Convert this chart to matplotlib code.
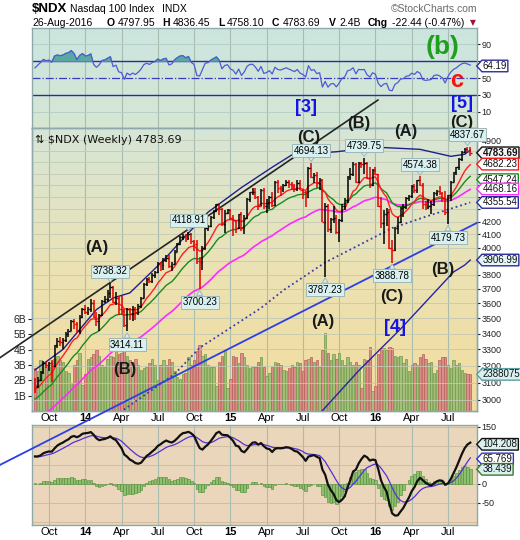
import numpy as np
import pandas as pd
from matplotlib import pyplot as plt
from matplotlib import transforms, font_manager
from matplotlib.path import Path
from matplotlib.colors import LinearSegmentedColormap
from matplotlib.ticker import NullLocator, NullFormatter

plt.rcParams["font.family"] = ["Liberation Sans", "DejaVu Sans"]
_names = {f.name for f in font_manager.fontManager.ttflist}
NARROW = "Liberation Sans Narrow" if "Liberation Sans Narrow" in _names else "Liberation Sans"

# ---------------- weekly $NDX data ----------------
first_week = "2013-08-30"

opens = [3120, 3080, 3115, 3160, 3215, 3205, 3215, 3200, 3325, 3350,
         3345, 3360, 3400, 3420, 3480, 3460, 3415, 3510, 3565, 3545,
         3560, 3600, 3510, 3480, 3525, 3615, 3630, 3670, 3710, 3610,
         3640, 3560, 3550, 3455, 3560, 3530, 3565, 3545, 3585, 3640,
         3735, 3770, 3755, 3800, 3820, 3885, 3870, 3910, 3925, 3860,
         3880, 3970, 4030, 4080, 4090, 4070, 4105, 4050, 4030, 3900,
         3890, 4000, 4150, 4165, 4235, 4285, 4340, 4300, 4185, 4270,
         4290, 4230, 4210, 4150, 4260, 4150, 4230, 4380, 4440, 4445,
         4400, 4330, 4460, 4330, 4350, 4400, 4335, 4525, 4480, 4470,
         4500, 4530, 4510, 4490, 4470, 4515, 4460, 4440, 4400, 4650,
         4570, 4590, 4520, 4540, 4200, 4330, 4140, 4220, 4230, 4120,
         4210, 4330, 4375, 4570, 4600, 4680, 4530, 4690, 4680, 4690,
         4560, 4500, 4630, 4594, 4325, 4190, 4260, 4280, 4000, 3980,
         4150, 4200, 4310, 4320, 4395, 4410, 4490, 4460, 4545, 4505,
         4340, 4320, 4330, 4340, 4435, 4450, 4430, 4390, 4275, 4417,
         4530, 4610, 4655, 4730, 4794, 4817, 4800]
highs = [3125, 3135, 3170, 3230, 3225, 3225, 3235, 3330, 3370, 3380,
         3370, 3410, 3430, 3490, 3495, 3475, 3520, 3570, 3592, 3575,
         3630, 3625, 3540, 3530, 3620, 3650, 3690, 3738.32, 3720, 3680,
         3650, 3650, 3560, 3570, 3570, 3580, 3575, 3595, 3645, 3740,
         3775, 3785, 3810, 3830, 3890, 3895, 3920, 3945, 3945, 3895,
         3980, 4035, 4085, 4105, 4100, 4118.91, 4110, 4060, 4060, 3930,
         4010, 4160, 4175, 4245, 4295, 4345, 4350, 4310, 4290, 4300,
         4300, 4250, 4215, 4265, 4275, 4250, 4390, 4445, 4480, 4480,
         4405, 4470, 4480, 4380, 4410, 4440, 4535, 4545, 4490, 4510,
         4545, 4540, 4530, 4510, 4545, 4545, 4470, 4450, 4660, 4694.13,
         4605, 4610, 4560, 4550, 4350, 4340, 4230, 4330, 4250, 4220,
         4340, 4390, 4580, 4650, 4700, 4690, 4700, 4705, 4739.75, 4700,
         4660, 4640, 4660, 4600, 4400, 4290, 4310, 4300, 4060, 4160,
         4240, 4320, 4340, 4400, 4420, 4500, 4510, 4545, 4574.38, 4515,
         4370, 4380, 4370, 4440, 4460, 4495, 4440, 4450, 4420, 4535,
         4615, 4660, 4740, 4800, 4830, 4837.67, 4836.45]
lows = [3040, 3070, 3110, 3150, 3185, 3170, 3105, 3195, 3310, 3320,
        3305, 3345, 3380, 3415, 3430, 3405, 3400, 3505, 3530, 3520,
        3540, 3500, 3450, 3420, 3515, 3600, 3610, 3640, 3600, 3590,
        3520, 3520, 3440, 3414.11, 3490, 3480, 3490, 3520, 3570, 3635,
        3720, 3740, 3740, 3780, 3815, 3830, 3835, 3895, 3850, 3830,
        3875, 3965, 4020, 4060, 4040, 4055, 4025, 3975, 3880, 3700.23,
        3835, 3985, 4130, 4160, 4220, 4280, 4250, 4170, 4110, 4260,
        4210, 4090, 4110, 4140, 4130, 4100, 4225, 4360, 4420, 4385,
        4290, 4325, 4300, 4270, 4300, 4320, 4330, 4430, 4410, 4440,
        4490, 4480, 4460, 4440, 4450, 4460, 4380, 4320, 4395, 4560,
        4520, 4480, 4460, 4200, 3787.23, 4120, 4110, 4190, 4100, 4040,
        4200, 4290, 4350, 4540, 4580, 4520, 4520, 4650, 4600, 4550,
        4480, 4490, 4590, 4320, 4150, 4030, 4170, 3990, 3888.78, 3975,
        4100, 4190, 4240, 4300, 4370, 4390, 4430, 4430, 4490, 4300,
        4290, 4300, 4260, 4330, 4410, 4420, 4360, 4255, 4179.73, 4370,
        4525, 4590, 4630, 4710, 4780, 4790, 4758.10]
closes = [3075, 3115, 3160, 3215, 3205, 3215, 3200, 3325, 3350, 3345,
          3360, 3400, 3420, 3480, 3460, 3415, 3510, 3565, 3545, 3560,
          3600, 3510, 3480, 3525, 3615, 3630, 3670, 3710, 3610, 3640,
          3560, 3550, 3455, 3560, 3530, 3565, 3545, 3585, 3640, 3735,
          3770, 3755, 3800, 3820, 3885, 3870, 3910, 3925, 3860, 3880,
          3970, 4030, 4080, 4090, 4070, 4105, 4050, 4030, 3900, 3890,
          4000, 4150, 4165, 4235, 4285, 4340, 4300, 4185, 4270, 4290,
          4230, 4210, 4150, 4260, 4150, 4230, 4380, 4440, 4445, 4400,
          4330, 4460, 4330, 4350, 4400, 4335, 4525, 4480, 4470, 4500,
          4530, 4510, 4490, 4470, 4515, 4460, 4440, 4400, 4650, 4570,
          4590, 4520, 4540, 4200, 4330, 4140, 4220, 4230, 4120, 4210,
          4330, 4375, 4570, 4600, 4680, 4530, 4690, 4680, 4690, 4560,
          4500, 4630, 4594, 4325, 4190, 4260, 4280, 4000, 3980, 4150,
          4200, 4310, 4320, 4395, 4410, 4490, 4460, 4545, 4505, 4340,
          4320, 4330, 4340, 4435, 4450, 4430, 4390, 4275, 4417, 4530,
          4610, 4655, 4730, 4794, 4817, 4802, 4783.69]
volumes_b = [2.8, 2.6, 3.3, 3.1, 2.9, 3.0, 3.2, 3.4, 3.6, 3.3,
             3.2, 2.6, 2.5, 1.8, 3.0, 3.3, 3.8, 1.7, 2.4, 3.4,
             3.5, 3.7, 4.0, 3.6, 3.0, 2.9, 3.4, 3.6, 3.5, 3.9,
             3.7, 3.8, 4.1, 3.6, 3.3, 3.2, 3.4, 3.0, 2.7, 2.8,
             2.9, 3.1, 3.4, 3.0, 2.0, 3.0, 3.3, 3.0, 3.4, 3.2,
             2.6, 2.2, 2.1, 2.4, 2.5, 3.5, 3.0, 3.3, 3.9, 4.3,
             3.6, 3.7, 3.0, 2.9, 2.9, 1.6, 3.2, 3.6, 4.0, 1.5,
             2.1, 3.6, 3.5, 3.1, 3.8, 3.5, 3.0, 2.8, 2.9, 2.9,
             3.2, 3.5, 2.9, 2.3, 2.5, 2.9, 3.2, 3.1, 3.0, 2.7,
             2.6, 2.8, 3.0, 2.9, 3.2, 3.1, 2.6, 3.3, 3.4, 3.5,
             3.2, 3.3, 2.9, 4.0, 5.1, 3.8, 3.3, 3.7, 3.4, 3.8,
             3.3, 3.0, 3.5, 3.2, 3.0, 3.2, 3.0, 1.5, 3.4, 3.3,
             4.2, 1.3, 1.6, 3.7, 4.1, 4.1, 4.0, 4.2, 4.1, 3.6,
             3.5, 3.6, 3.1, 3.4, 2.6, 3.0, 3.1, 3.0, 3.5, 3.7,
             3.4, 3.1, 3.2, 2.5, 2.7, 3.3, 3.5, 3.5, 3.0, 2.8,
             3.3, 3.0, 3.1, 2.7, 2.5, 2.4, 2.388075]

# closes before the first visible week, used only to warm up the indicators
warmup_closes = [2590, 2600, 2580, 2615, 2600, 2610, 2620, 2650, 2670, 2720,
                 2780, 2770, 2770, 2830, 2860, 2870, 2800, 2810, 2730, 2690,
                 2650, 2640, 2580, 2520, 2620, 2660, 2620, 2630, 2650, 2610,
                 2755, 2760, 2765, 2760, 2790, 2800, 2810, 2785, 2790, 2820,
                 2830, 2820, 2850, 2810, 2890, 2840, 2870, 2940, 2990, 3030,
                 3015, 2995, 3000, 2975, 2930, 2955, 2995, 3055, 3035, 3055,
                 3110, 3100, 3075, 3120]

# long overlays
upper_dates = ["2013-08-30", "2013-11-08", "2014-01-31", "2014-03-14", "2014-04-25",
               "2014-06-06", "2014-07-18", "2014-08-29", "2014-11-07", "2015-01-30",
               "2015-04-17", "2015-06-05", "2015-07-17", "2015-09-25", "2016-01-01",
               "2016-04-22", "2016-07-08", "2016-08-12", "2016-08-26"]
upper_vals = [3175, 3300, 3558, 3637, 3672, 3786, 3904, 4043, 4276, 4480,
              4655, 4764, 4776, 4793, 4835, 4815, 4752, 4770, 4808]
ma100_dates = ["2014-03-21", "2014-08-15", "2014-10-17", "2015-03-20", "2015-05-15",
               "2015-08-28", "2016-02-12", "2016-05-06", "2016-08-26"]
ma100_vals = [2915, 3150, 3310, 3569, 3690, 3889, 4150, 4240, 4355.54]
curve_dates = ["2015-08-07", "2015-08-21", "2015-11-20", "2016-03-04", "2016-06-10",
               "2016-07-15", "2016-08-12", "2016-08-26"]
curve_vals = [2912, 2940, 3170, 3430, 3713, 3820, 3870, 3906.99]

# hand-drawn trend lines: two anchors each
black_dates, black_prices = ["2014-03-07", "2015-07-24"], [3745, 4850]
blue_dates, blue_prices = ["2014-06-06", "2016-05-06"], [3054, 3990]

# wave labels
wave_text = ["(A)", "(B)", "[3]", "(C)", "(B)", "(A)", "[5]", "(C)", "(A)", "(C)", "[4]", "(B)"]
wave_dates = ["2014-01-31", "2014-04-11", "2015-07-10", "2015-07-17", "2015-11-20", "2016-03-18",
              "2016-08-05", "2016-08-05", "2015-08-21", "2016-02-12", "2016-02-19", "2016-06-17"]
wave_prices = [4000, 3180, 5213, 4928, 5059, 4982, 5250, 5065, 3476, 3650, 3437, 3841]

# price callouts
hi_dates = ["2014-03-07", "2014-09-19", "2015-07-24", "2015-12-04", "2016-04-22", "2016-08-19"]
lo_dates = ["2014-04-18", "2014-10-17", "2015-08-28", "2016-02-12", "2016-07-01"]

# ---------------- derived series ----------------
weeks = pd.date_range(first_week, periods=len(closes), freq="W-FRI")
idx = np.arange(len(closes))
nw = len(warmup_closes)


def week_index(dates):
    return weeks.get_indexer(pd.to_datetime(dates), method="nearest")


allc = pd.Series(warmup_closes + closes, dtype=float)
ema10 = allc.ewm(span=10, adjust=False).mean().values[nw:]
ema20 = allc.ewm(span=20, adjust=False).mean().values[nw:]
ema50 = allc.ewm(span=50, adjust=False).mean().values[nw:]
macd_full = allc.ewm(span=12, adjust=False).mean() - allc.ewm(span=26, adjust=False).mean()
sig_full = macd_full.ewm(span=9, adjust=False).mean()
macd = macd_full.values[nw:]
signal = sig_full.values[nw:]
hist = macd - signal
d = allc.diff()
g = d.clip(lower=0).ewm(alpha=1 / 14, adjust=False).mean()
l = (-d.clip(upper=0)).ewm(alpha=1 / 14, adjust=False).mean()
rsi = (100 - 100 / (1 + g / l)).values[nw:]

prev = np.r_[warmup_closes[-1], closes[:-1]]
up = np.array(closes) >= prev

# ---------------- figure ----------------
W, H = 520, 540
fig = plt.figure(figsize=(W / 100, H / 100), dpi=100)
fig.patch.set_facecolor("white")


def rect(x0, y0, x1, y1):
    return [x0 / W, 1 - y1 / H, (x1 - x0) / W, (y1 - y0) / H]


XL, XR = 32.3, 476.7
ax_rsi = fig.add_axes(rect(XL, 28, XR, 128))
ax_vol = fig.add_axes(rect(XL, 128, XR, 411))
ax_main = fig.add_axes(rect(XL, 128, XR, 411), sharex=ax_vol)
ax_macd = fig.add_axes(rect(XL, 425, XR, 525))
ax_vol.set_zorder(1)
ax_main.set_zorder(5)
ax_main.patch.set_visible(False)


def gradient(ax, colors):
    cmap = LinearSegmentedColormap.from_list("bg", colors)
    ax.imshow(np.linspace(0, 1, 256).reshape(-1, 1), cmap=cmap, origin="lower", aspect="auto",
              extent=[0, 1, 0, 1], transform=ax.transAxes, zorder=0)


gradient(ax_rsi, ["#d6e7d3", "#cbe5df"])
gradient(ax_vol, ["#f3dc9c", "#ebe2b4", "#d6e6d8"])
gradient(ax_macd, ["#ecd6bb", "#ead7bc"])

month_start = np.r_[True, weeks.month[1:] != weeks.month[:-1]]
qmask = month_start & np.isin(weeks.month, [1, 4, 7, 10])
q_idx = idx[qmask]
q_lab = [str(dt.year)[2:] if dt.month == 1 else dt.strftime("%b") for dt in weeks[qmask]]

for ax in (ax_rsi, ax_vol, ax_main, ax_macd):
    ax.set_xlim(-0.97, 158.3)
    for s in ax.spines.values():
        s.set_color("#8fa9ab")
        s.set_linewidth(1.0)
    ax.set_xticks(q_idx)
    ax.tick_params(axis="x", length=0)

for ax in (ax_rsi, ax_vol, ax_macd):
    ax.set_axisbelow(True)
    ax.grid(axis="x", color="#a9bcb0", lw=0.8)


def right_ticks(ax, ticks, hidden=()):
    # labels that sit under a value tag are left blank, as they are covered there
    ax.yaxis.tick_right()
    ax.set_yticks(ticks)
    ax.set_yticklabels(["" if t in hidden else str(t) for t in ticks])
    ax.tick_params(axis="y", length=2, pad=1.5, labelsize=6.5, colors="#222222",
                   labelfontfamily=NARROW)


def xlabels(ax):
    ax.set_xticklabels(q_lab, fontsize=8)
    for lab in ax.get_xticklabels():
        if lab.get_text().isdigit():
            lab.set_fontweight("bold")
    ax.tick_params(axis="x", pad=1.5)


def tag_style(x0, y0, width, height, mutation_size):
    pad = 0.08 * mutation_size
    x0, y0 = x0 - pad, y0 - pad
    x1, y1 = x0 + width + 2 * pad, y0 + height + 2 * pad
    tip = (y1 - y0) * 0.45
    return Path([(x0, y0), (x1, y0), (x1, y1), (x0, y1), (x0 - tip, (y0 + y1) / 2), (x0, y0)],
                closed=True)


def tag(ax, value, text, ec, fc="white", weight="normal", ytrans=None):
    tr = transforms.blended_transform_factory(ax.transAxes, (ytrans or ax).transData)
    ax.text(1.0 + 6 / (XR - XL), value, text, transform=tr, ha="left", va="center",
            fontsize=7, fontweight=weight, color="#111111", clip_on=False, zorder=20,
            bbox=dict(boxstyle=tag_style, fc=fc, ec=ec, lw=1.0))


# ---------------- RSI panel ----------------
ax_rsi.set_ylim(-9, 109)
right_ticks(ax_rsi, [10, 30, 50, 70, 90], hidden=(70,))
ax_rsi.tick_params(axis="x", labelbottom=False)
for v in (10, 90):
    ax_rsi.axhline(v, color="#b5cbc4", lw=0.6, zorder=1)
ax_rsi.axhline(70, color="#2b2ba3", lw=1.0, zorder=2)
ax_rsi.axhline(30, color="#2b2ba3", lw=1.0, zorder=2)
ax_rsi.axhline(50, color="#3a3ac0", lw=0.9, ls="-.", zorder=2)
ax_rsi.fill_between(idx, rsi, 70, where=rsi > 70, interpolate=True, color="#5aa8a2", zorder=3)
ax_rsi.plot(idx, rsi, color="#4c5bd4", lw=0.9, zorder=4)
tag(ax_rsi, 64.19, "64.19", "#2b2ba3")
ax_rsi.text(week_index(["2016-06-17"])[0], 86, "(b)", color="#1f9e1f", fontsize=19,
            fontweight="bold", ha="center", va="center", zorder=6)
ax_rsi.text(week_index(["2016-07-22"])[0], 47, "c", color="#ff1010", fontsize=17,
            fontweight="bold", ha="center", va="center", zorder=6)

# ---------------- volume (under price) ----------------
ax_vol.set_ylim(0, 18.46)
ax_vol.bar(idx, volumes_b, width=0.85,
           color=np.where(up, "#a3bf7a", "#db8f8b"),
           edgecolor=np.where(up, "#6e9a4c", "#b85e5a"), lw=0.5, zorder=2)
ax_vol.yaxis.tick_left()
ax_vol.set_yticks([1, 2, 3, 4, 5, 6])
ax_vol.set_yticklabels([f"{v}B" for v in range(1, 7)])
ax_vol.tick_params(axis="y", length=3, pad=1.5, labelsize=7.5, colors="#222222")
xlabels(ax_vol)

# ---------------- price panel ----------------
ax_main.set_yscale("log")
ax_main.set_ylim(2938, 5013)
pticks = list(range(3000, 5000, 100))
right_ticks(ax_main, pticks, hidden=(4800, 4700, 4600, 4500, 4400, 4300, 3900))
ax_main.yaxis.set_minor_locator(NullLocator())
ax_main.yaxis.set_minor_formatter(NullFormatter())
ax_main.grid(axis="y", color="#c3c9b2", lw=0.6, zorder=0)
ax_main.tick_params(axis="x", labelbottom=False)

ax_main.plot(week_index(curve_dates), curve_vals, color="#2525a0", lw=1.0, zorder=3)
ax_main.plot(week_index(ma100_dates), ma100_vals, color="#3a3aa8", lw=1.3, ls=":", zorder=3)
ax_main.plot(week_index(upper_dates), upper_vals, color="#1f1f8a", lw=1.0, zorder=3)
ax_main.plot(idx, ema50, color="#ff2aff", lw=1.2, zorder=3)
ax_main.plot(idx, ema20, color="#1b8a1b", lw=1.0, zorder=3)
ax_main.plot(idx, ema10, color="#ff2020", lw=1.0, zorder=3)

bar_col = np.where(up, "#000000", "#e60000")
ax_main.vlines(idx, lows, highs, colors=bar_col, lw=1.1, zorder=6)
ax_main.hlines(opens, idx - 0.5, idx, colors=bar_col, lw=1.0, zorder=6)
ax_main.hlines(closes, idx, idx + 0.5, colors=bar_col, lw=1.0, zorder=6)


def trend(dates, prices, i0, i1):
    a, b = week_index(dates)
    la, lb = np.log(prices)
    xs = np.array([i0, i1], dtype=float)
    return xs, np.exp(la + (lb - la) * (xs - a) / (b - a))


bx, by = trend(black_dates, black_prices, -12.5, 122.9)
ax_main.plot(bx, by, color="#252525", lw=1.2, clip_on=False, zorder=4)
ux, uy = trend(blue_dates, blue_prices, -12.5, 158.3)
ax_main.plot(ux, uy, color="#2c3fe6", lw=1.3, clip_on=False, zorder=4)

for t, dte, p in zip(wave_text, wave_dates, wave_prices):
    blue = t.startswith("[")
    ax_main.text(week_index([dte])[0], p, t, ha="center", va="center",
                 fontsize=13 if blue else 12, fontweight="bold",
                 color="#1414e6" if blue else "#1a1a1a", zorder=9)

box = dict(boxstyle="square,pad=0.15", fc="#d8f0f0", ec="#9db7b7", lw=0.7)
for i in week_index(hi_dates):
    ax_main.annotate(f"{highs[i]:.2f}", xy=(i, highs[i]), xytext=(0, 5), textcoords="offset points",
                     ha="center", va="bottom", fontsize=7, bbox=box, zorder=10,
                     arrowprops=dict(arrowstyle="wedge,tail_width=0.6", fc="#d8f0f0", ec="#9db7b7",
                                     lw=0.7, shrinkA=0, shrinkB=1))
for i in week_index(lo_dates):
    ax_main.annotate(f"{lows[i]:.2f}", xy=(i, lows[i]), xytext=(0, -6), textcoords="offset points",
                     ha="center", va="top", fontsize=7, bbox=box, zorder=10,
                     arrowprops=dict(arrowstyle="wedge,tail_width=0.6", fc="#d8f0f0", ec="#9db7b7",
                                     lw=0.7, shrinkA=0, shrinkB=1))

ax_main.text(0.006, 0.975, "\u21c5 $NDX (Weekly) 4783.69", transform=ax_main.transAxes,
             ha="left", va="top", fontsize=8, family="DejaVu Sans", color="#111111", zorder=9)

tag(ax_main, 4783.69, "4783.69", "#111111", fc="#f4f4f4", weight="bold")
tag(ax_main, 4682.23, "4682.23", "#ee1c1c")
tag(ax_main, 4547.24, "4547.24", "#1b8a1b")
tag(ax_main, 4468.16, "4468.16", "#ff2aff")
tag(ax_main, 4355.54, "4355.54", "#2a2a9a")
tag(ax_main, 3906.99, "3906.99", "#2a2a9a", fc="#e4f5f5")
tag(ax_main, 2.388075, "2388075", "#5f9ea0", fc="#d8f0f0", ytrans=ax_vol)

# ---------------- MACD panel ----------------
ax_macd.set_ylim(-108, 155)
right_ticks(ax_macd, [-50, 0, 50, 100, 150], hidden=(50, 100))
for v in (-100, -50, 0, 50, 100, 150):
    ax_macd.axhline(v, color="#cdb9a0", lw=0.6, zorder=1)
ax_macd.bar(idx, hist, width=0.9, color="#8fc06e", edgecolor="#4b8a36", lw=0.4, zorder=2)
ax_macd.plot(idx, signal, color="#5530d8", lw=0.9, zorder=3)
ax_macd.plot(idx, macd, color="#111111", lw=1.6, zorder=4)
xlabels(ax_macd)
tag(ax_macd, 104.208, "104.208", "#111111", fc="#d8f0f0")
tag(ax_macd, 65.769, "65.769", "#3030d0")
tag(ax_macd, 38.439, "38.439", "#3d7a2a", fc="#d8f0f0")

# ---------------- header ----------------
def ftext(x, y, s, **kw):
    fig.text(x / W, 1 - y / H, s, va="center", **kw)


ftext(32, 9, "$NDX", fontsize=9.5, fontweight="bold")
ftext(70, 9, "Nasdaq 100 Index", fontsize=7.5)
ftext(162, 9, "INDX", fontsize=7.5)
ftext(477, 9, "\u00a9StockCharts.com", fontsize=7.5, color="#6a6a6a", ha="right")
ftext(32, 22.5, "26-Aug-2016", fontsize=7.5)
for x, s, bold in [(107, "O", True), (118, "4797.95", False), (162, "H", True), (173, "4836.45", False),
                   (218, "L", True), (227, "4758.10", False), (272, "C", True), (283, "4783.69", False),
                   (329, "V", True), (339, "2.4B", False), (368, "Chg", True), (392, "-22.44 (-0.47%)", False)]:
    ftext(x, 22.5, s, fontsize=7.5, fontweight="bold" if bold else "normal")
ftext(473, 22.5, "\u25bc", fontsize=5.5, color="#a0103a", ha="center", family="DejaVu Sans")

fig.savefig("out.png", dpi=100)
plt.close(fig)
